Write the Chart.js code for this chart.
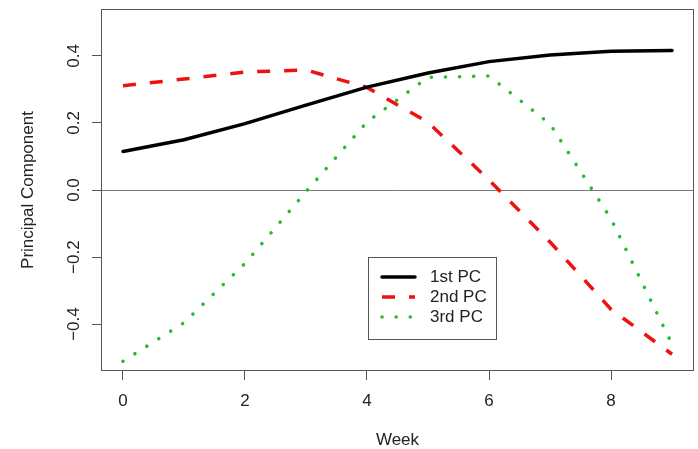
<!DOCTYPE html>
<html>
<head>
<meta charset="utf-8">
<script src="https://cdn.jsdelivr.net/npm/chart.js@4"></script>
<style>
  html, body { margin: 0; padding: 0; background: #fff; }
  #wrap { width: 698px; height: 449px; }
</style>
</head>
<body>
<div id="wrap"><canvas id="grafico" width="698" height="449"></canvas></div>
<script>
const semanas = [0, 1, 2, 3, 4, 5, 6, 7, 8, 9];
const pc1 = [0.115, 0.150, 0.198, 0.253, 0.307, 0.349, 0.383, 0.403, 0.414, 0.416];
const pc2 = [0.311, 0.331, 0.352, 0.358, 0.306, 0.202, 0.030, -0.155, -0.356, -0.490];
const pc3 = [-0.511, -0.396, -0.219, -0.005, 0.203, 0.336, 0.340, 0.197, -0.086, -0.460];
const rotulos = ['1st PC', '2nd PC', '3rd PC'];
const xTicks = [0, 2, 4, 6, 8];
const yTicks = [-0.4, -0.2, 0.0, 0.2, 0.4];

Chart.defaults.font.family = '"Liberation Sans", Arial, Helvetica, sans-serif';
Chart.defaults.font.size = 17;
Chart.defaults.color = '#222';

function pontos(valores) {
  return semanas.map((s, i) => ({ x: s, y: valores[i] }));
}

// caixa em volta da area do grafico
const caixa = {
  id: 'caixa',
  afterDraw(chart) {
    const { ctx, chartArea: a } = chart;
    ctx.save();
    ctx.strokeStyle = '#555';
    ctx.lineWidth = 1;
    ctx.strokeRect(a.left + 0.5, a.top + 0.5, a.right - a.left - 1, a.bottom - a.top - 1);
    ctx.restore();
  }
};

// legenda dentro do grafico, como no R
const legendaInterna = {
  id: 'legendaInterna',
  afterDraw(chart) {
    const { ctx, chartArea: a } = chart;
    const left = a.left + 267, top = a.top + 248, w = 128, h = 82;
    ctx.save();
    ctx.fillStyle = '#fff';
    ctx.fillRect(left, top, w, h);
    ctx.strokeStyle = '#555';
    ctx.lineWidth = 1;
    ctx.strokeRect(left + 0.5, top + 0.5, w, h);
    chart.data.datasets.forEach((ds, i) => {
      const y = top + 20 + i * 20;
      ctx.beginPath();
      ctx.setLineDash(ds.borderDash || []);
      ctx.lineCap = ds.borderCapStyle || 'butt';
      ctx.strokeStyle = ds.borderColor;
      ctx.lineWidth = ds.borderWidth;
      ctx.moveTo(left + 14, y);
      ctx.lineTo(left + 47, y);
      ctx.stroke();
      ctx.setLineDash([]);
      ctx.fillStyle = '#222';
      ctx.font = '17px "Liberation Sans", Arial, sans-serif';
      ctx.textBaseline = 'middle';
      ctx.textAlign = 'left';
      ctx.fillText(ds.label, left + 62, y);
    });
    ctx.restore();
  }
};

const ctx = document.getElementById('grafico').getContext('2d');
new Chart(ctx, {
  type: 'line',
  data: {
    datasets: [
      {
        label: rotulos[0],
        data: pontos(pc1),
        borderColor: '#000000',
        borderWidth: 3.5,
        borderCapStyle: 'round',
        pointRadius: 0
      },
      {
        label: rotulos[1],
        data: pontos(pc2),
        borderColor: '#ee1111',
        borderWidth: 3.5,
        borderDash: [13, 14],
        borderCapStyle: 'butt',
        pointRadius: 0
      },
      {
        label: rotulos[2],
        data: pontos(pc3),
        borderColor: '#22bb33',
        borderWidth: 3.5,
        borderDash: [0.1, 14],
        borderCapStyle: 'round',
        pointRadius: 0
      }
    ]
  },
  options: {
    responsive: false,
    animation: false,
    layout: { padding: { top: 9, right: 4, left: 0, bottom: 0 } },
    plugins: {
      legend: { display: false },
      tooltip: { enabled: false }
    },
    scales: {
      x: {
        type: 'linear',
        min: -0.36,
        max: 9.36,
        afterBuildTicks: s => { s.ticks = xTicks.map(v => ({ value: v })); },
        afterFit: s => { s.height = 78; s.paddingLeft = 0; s.paddingRight = 0; },
        border: { display: false },
        grid: { drawOnChartArea: false, drawTicks: true, tickLength: 9, tickColor: '#555' },
        ticks: { padding: 11, maxRotation: 0, callback: v => String(v) },
        title: {
          display: true,
          text: 'Week',
          font: { size: 17, lineHeight: 1 },
          padding: { top: 0, bottom: 0 }
        }
      },
      y: {
        type: 'linear',
        min: -0.54,
        max: 0.54,
        afterBuildTicks: s => { s.ticks = yTicks.map(v => ({ value: v })); },
        afterFit: s => { s.width = 101; s.paddingTop = 0; s.paddingBottom = 0; },
        border: { display: false },
        grid: {
          drawOnChartArea: true,
          drawTicks: true,
          tickLength: 9,
          tickColor: '#555',
          color: c => (c.tick && c.tick.value === 0 ? '#777' : 'rgba(0,0,0,0)')
        },
        ticks: {
          padding: 1,
          minRotation: 90,
          maxRotation: 90,
          crossAlign: 'center',
          callback: v => v.toFixed(1).replace('-', '\u2212')
        },
        title: {
          display: true,
          text: 'Principal Component',
          font: { size: 17 },
          padding: { top: 18, bottom: 0 }
        }
      }
    }
  },
  plugins: [caixa, legendaInterna]
});
</script>
</body>
</html>
